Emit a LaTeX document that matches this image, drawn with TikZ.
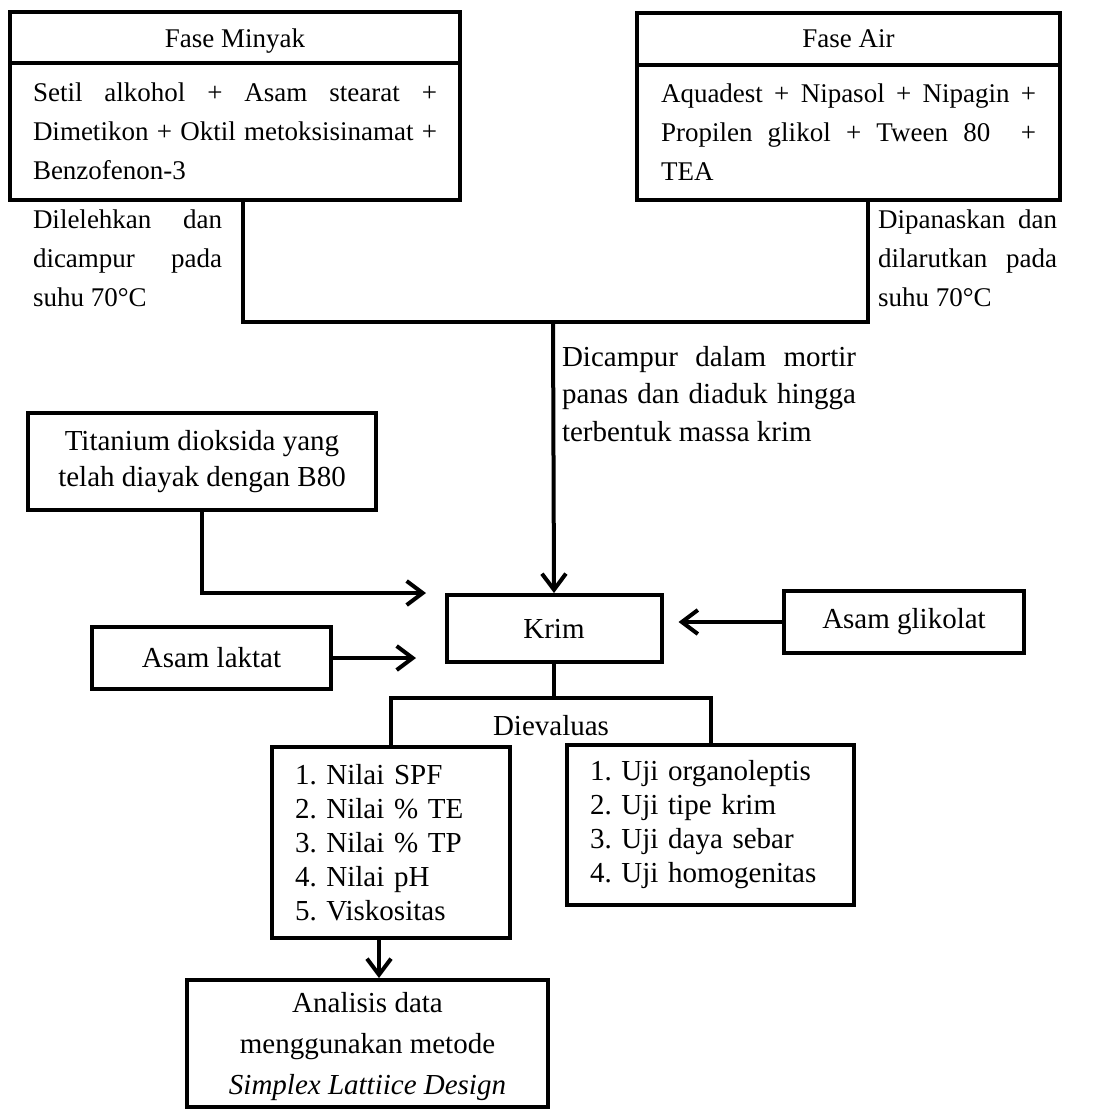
\documentclass[tikz,border=0pt]{standalone}
\usepackage{fontspec}
\setmainfont{Liberation Serif}
\usetikzlibrary{arrows.meta}

\frenchspacing

\tikzset{
  kotak/.style={draw, line width=2pt, align=center, inner sep=0pt},
  teks/.style={inner sep=0pt},
  rata/.style={align=justify},
  besar/.style={font=\fontsize{14.5}{18}\selectfont},
  daftar/.style={font=\fontsize{14.5}{17}\selectfont},
  garis/.style={line width=2pt},
  panah/.style={line width=2pt, -{Straight Barb[length=8pt,width=12pt]}},
}

\begin{document}
\begin{tikzpicture}[x=0.5pt, y={(0pt,-0.5pt)}, every node/.style={font=\fontsize{13.5}{19.5}\selectfont}]
    \useasboundingbox (0,0) rectangle (1096,1113);

    % fase minyak dan fase air
    \node[kotak, text depth=0pt, minimum width=225pt, minimum height=25.5pt] (minyak) at (235,38) {Fase Minyak};
    \node[kotak, rata, minimum width=225pt, minimum height=68.5pt, text width=202pt] (minyakIsi) at (235,131.5)
        {Setil alkohol + Asam stearat +\linebreak Dimetikon + Oktil metoksisinamat +\linebreak Benzofenon-3};
    \node[kotak, text depth=0pt, minimum width=211.5pt, minimum height=26pt] (air) at (848.5,39) {Fase Air};
    \node[kotak, rata, minimum width=211.5pt, minimum height=67.5pt, text width=187.5pt] (airIsi) at (848.5,132.5)
        {Aquadest + Nipasol + Nipagin +\linebreak Propilen glikol + Tween 80 \ +\linebreak TEA};

    \node[teks, rata, text width=94.5pt] (leleh) at (127.5,258) {Dilelehkan dan\linebreak dicampur pada\linebreak suhu 70°C};
    \node[teks, rata, text width=89.5pt] (panas) at (967.5,258) {Dipanaskan dan\linebreak dilarutkan pada\linebreak suhu 70°C};

    \coordinate (sambungKiri) at (243,322);
    \coordinate (sambungKanan) at (868,322);
    \coordinate (gabung) at (553,322);
    \draw[garis] (minyakIsi.south -| sambungKiri) -- (sambungKiri) -- (sambungKanan) -- (airIsi.south -| sambungKanan);

    \node[teks, rata, text width=147pt, font=\fontsize{14.5}{18.75}\selectfont] (campur) at (709,394)
        {Dicampur dalam mortir\linebreak panas dan diaduk hingga\linebreak terbentuk massa krim};

    % krim
    \node[kotak, besar, minimum width=107.5pt, minimum height=33.5pt] (krim) at (554,628.5) {Krim};
    \draw[panah] (gabung) -- (krim.north);

    \node[kotak, besar, minimum width=174pt, minimum height=48.5pt] (titan) at (202,461.5) {Titanium dioksida yang\\ telah diayak dengan B80};
    \coordinate (titanUjung) at (426,593);
    \draw[panah] (titan.south) |- (titanUjung);

    \node[kotak, besar, minimum width=120pt, minimum height=31pt] (glikolat) at (904,622) {Asam glikolat};
    \draw[panah, shorten >=7.5pt] (glikolat.west) -- (glikolat.west -| krim.east);

    \node[kotak, besar, minimum width=119.5pt, minimum height=31pt] (laktat) at (211.5,658) {Asam laktat};
    \coordinate (laktatUjung) at (416,658);
    \draw[panah] (laktat.east) -- (laktatUjung);

    % evaluasi
    \coordinate (cabang) at (554,698);
    \draw[garis] (krim.south) -- (cabang);
    \node[teks, besar] (evaluasi) at (551,726) {Dievaluas};
    \node[kotak, daftar, minimum width=119pt, minimum height=95.5pt, text width=96pt, align=left] (nilai) at (391,842.5)
        {1. Nilai SPF\\ 2. Nilai \% TE\\ 3. Nilai \% TP\\ 4. Nilai pH\\ 5. Viskositas};
    \node[kotak, daftar, minimum width=143.5pt, minimum height=80pt, text width=120.5pt, align=left] (uji) at (710.5,825)
        {1. Uji organoleptis\\ 2. Uji tipe krim\\ 3. Uji daya sebar\\ 4. Uji homogenitas};
    \draw[garis] (nilai.north) |- (cabang) -| (uji.north);

    \node[kotak, text depth=0pt, minimum width=180.5pt, minimum height=63.5pt, font=\fontsize{14.5}{20.5}\selectfont] (analisis) at (367.5,1043.5)
        {Analisis data\\ menggunakan metode\\ \textit{Simplex Lattiice Design}};
    \coordinate (turun) at (379,938);
    \draw[panah] (turun) -- (turun |- analisis.north);
\end{tikzpicture}
\end{document}
